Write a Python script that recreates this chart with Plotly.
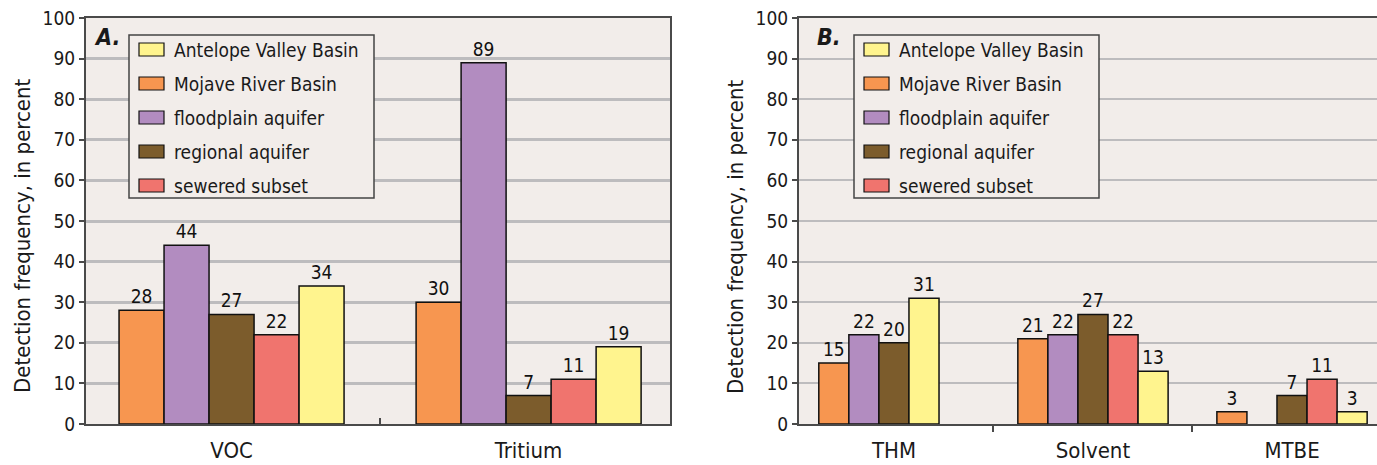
import plotly.graph_objects as go

# ---- data -------------------------------------------------------------
series_names = ["Antelope Valley Basin", "Mojave River Basin", "floodplain aquifer",
                "regional aquifer", "sewered subset"]

cats_a = ["VOC", "Tritium"]
mojave_a = [28, 30]
floodplain_a = [44, 89]
regional_a = [27, 7]
sewered_a = [22, 11]
antelope_a = [34, 19]

cats_b = ["THM", "Solvent", "MTBE"]
mojave_b = [15, 21, 3]
floodplain_b = [22, 22, None]
regional_b = [20, 27, 7]
sewered_b = [None, 22, 11]
antelope_b = [31, 13, 3]

y_ticks = [0, 10, 20, 30, 40, 50, 60, 70, 80, 90, 100]

# ---- styling ----------------------------------------------------------
W, H = 1377, 465
FONT = "DejaVu Sans Condensed, Liberation Sans, Arial, sans-serif"
BG = "#f2edea"
GRID = "#bdbcbe"
AXIS = "#4a4a4a"
COLORS = {
    "Antelope Valley Basin": "#fff48e",
    "Mojave River Basin": "#f79650",
    "floodplain aquifer": "#b28cc0",
    "regional aquifer": "#7c5c2c",
    "sewered subset": "#f0746e",
}
# left-to-right order of the bars inside each group
BAR_ORDER = ["Mojave River Basin", "floodplain aquifer", "regional aquifer",
             "sewered subset", "Antelope Valley Basin"]


def px_x(x):
    return x / W


def px_y(y):
    return 1 - y / H


fig = go.Figure()

panel_a = {
    "Mojave River Basin": mojave_a,
    "floodplain aquifer": floodplain_a,
    "regional aquifer": regional_a,
    "sewered subset": sewered_a,
    "Antelope Valley Basin": antelope_a,
}
panel_b = {
    "Mojave River Basin": mojave_b,
    "floodplain aquifer": floodplain_b,
    "regional aquifer": regional_b,
    "sewered subset": sewered_b,
    "Antelope Valley Basin": antelope_b,
}
# THM has no sewered-subset bar; the Antelope bar moves into that slot
slot_shift_b = {("THM", "Antelope Valley Basin"): -1}


def add_panel(data, cats, xaxis, yaxis, bw, shifts):
    for slot, name in enumerate(BAR_ORDER):
        vals = data[name]
        offsets = []
        for c in cats:
            s = slot + shifts.get((c, name), 0)
            offsets.append((s - 2.5) * bw)
        fig.add_trace(go.Bar(
            x=cats, y=vals, name=name,
            offset=offsets, width=bw,
            marker=dict(color=COLORS[name], line=dict(color="#111111", width=1.5)),
            text=["" if v is None else str(v) for v in vals],
            textposition="outside", textangle=0, constraintext="none",
            textfont=dict(family=FONT, size=19, color="#111111"),
            cliponaxis=False, showlegend=False,
            xaxis=xaxis, yaxis=yaxis,
        ))


add_panel(panel_a, cats_a, "x", "y", 0.1515, {})
add_panel(panel_b, cats_b, "x2", "y2", 0.151, slot_shift_b)

dom_y = [px_y(424), px_y(18)]

common_y = dict(
    range=[0, 100], tickvals=y_ticks, ticktext=[str(t) for t in y_ticks],
    showgrid=True, gridcolor=GRID, zeroline=False,
    showline=True, linecolor=AXIS, linewidth=2,
    ticks="outside", ticklen=5, tickwidth=2, tickcolor=AXIS,
    tickfont=dict(family=FONT, size=19, color="#1a1a1a"),
    fixedrange=True, domain=dom_y, automargin=False,
)
common_x = dict(
    type="category", showgrid=False, zeroline=False,
    showline=True, linecolor=AXIS, linewidth=2, mirror=True,
    tickson="boundaries", ticklen=6, tickwidth=1.5, tickcolor=AXIS,
    tickfont=dict(family=FONT, size=22, color="#1a1a1a"),
    ticklabelstandoff=6, automargin=False,
)

fig.update_layout(
    width=W, height=H,
    margin=dict(l=0, r=0, t=0, b=0, pad=0, autoexpand=False),
    paper_bgcolor="white", plot_bgcolor=BG,
    barmode="overlay", showlegend=False,
    xaxis=dict(common_x, domain=[px_x(86), px_x(670)], range=[-0.49, 1.476],
               ticks="inside", anchor="y"),
    yaxis=dict(common_y, gridwidth=3, mirror=True, anchor="x"),
    xaxis2=dict(common_x, domain=[px_x(799), 1.0], range=[-0.477, 2.427],
                ticks="outside", anchor="y2"),
    yaxis2=dict(common_y, gridwidth=2, mirror=False, anchor="x2"),
)

shapes = []
annotations = []

# axis titles and panel letters
for xc in (22, 735):
    annotations.append(dict(
        text="Detection frequency, in percent", x=px_x(xc), y=px_y(236),
        xref="paper", yref="paper", textangle=-90, showarrow=False,
        font=dict(family=FONT, size=22, color="#1a1a1a"),
        xanchor="center", yanchor="middle",
    ))
for letter, xl in (("A.", 92), ("B.", 815)):
    annotations.append(dict(
        text=f"<b><i>{letter}</i></b>", x=px_x(xl), y=px_y(37),
        xref="paper", yref="paper", showarrow=False,
        font=dict(family=FONT, size=23, color="#1a1a1a"),
        xanchor="left", yanchor="middle",
    ))

# legend boxes
for box_left in (129, 854):
    box_right = box_left + 245
    shapes.append(dict(
        type="rect", xref="paper", yref="paper", layer="above",
        x0=px_x(box_left), x1=px_x(box_right), y0=px_y(198), y1=px_y(35),
        fillcolor=BG, line=dict(color="#444444", width=1.5),
    ))
    for i, name in enumerate(series_names):
        yc = 49.5 + 34 * i
        sx0 = box_left + 10
        shapes.append(dict(
            type="rect", xref="paper", yref="paper", layer="above",
            x0=px_x(sx0), x1=px_x(sx0 + 25), y0=px_y(yc + 6.5), y1=px_y(yc - 6.5),
            fillcolor=COLORS[name], line=dict(color="#111111", width=1.2),
        ))
        annotations.append(dict(
            text=name, x=px_x(sx0 + 33), y=px_y(yc),
            xref="paper", yref="paper", showarrow=False,
            font=dict(family=FONT, size=19, color="#1a1a1a"),
            xanchor="left", yanchor="middle",
        ))

fig.update_layout(shapes=shapes, annotations=annotations)

fig.write_html("out.html")
